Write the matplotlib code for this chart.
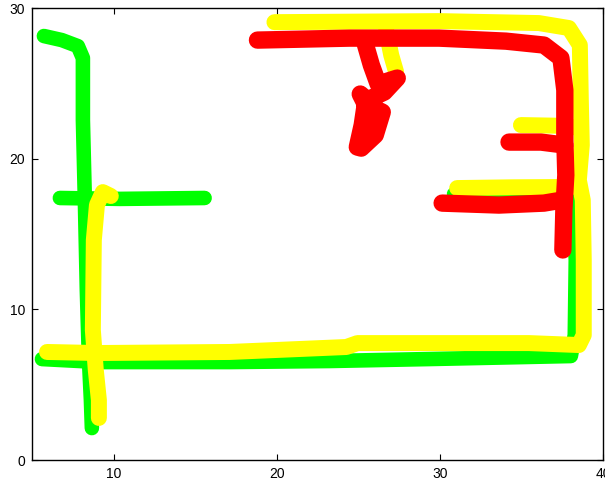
import numpy as np
import matplotlib
matplotlib.use("Agg")
import matplotlib.pyplot as plt

plt.rcParams["font.family"] = ["Liberation Sans", "DejaVu Sans"]

# ---- trajectory data (metres) ----
# green run
green_a_x = [5.73, 6.83, 7.81, 8.12, 8.12, 8.24, 8.36, 8.49, 8.61, 8.67]
green_a_y = [28.14, 27.87, 27.47, 26.68, 22.56, 17.25, 11.28, 6.64, 3.98, 2.12]
green_b_x = [6.71, 10.4, 15.58]
green_b_y = [17.39, 17.33, 17.39]
green_c_x = [5.61, 9.16, 17.11, 23.23, 29.34, 35.03, 38.03, 38.27, 38.33, 38.21, 38.09, 36.38, 30.87]
green_c_y = [6.70, 6.50, 6.50, 6.57, 6.70, 6.83, 6.90, 8.29, 13.27, 16.26, 17.45, 17.58, 17.65]

# yellow run
yellow_a_x = [19.86, 29.95, 36.07, 37.91, 38.58, 38.64, 38.70, 38.52, 38.76, 38.82, 38.82, 38.52,
              35.46, 24.95, 24.27, 17.11, 8.98, 5.92]
yellow_a_y = [29.06, 29.13, 29.00, 28.67, 27.54, 23.89, 20.90, 18.58, 17.25, 13.27, 8.29, 7.63,
              7.76, 7.76, 7.50, 7.17, 7.10, 7.17]
yellow_b_x = [9.83, 9.34, 8.98, 8.79, 8.73, 8.91, 9.10, 9.10]
yellow_b_y = [17.52, 17.78, 16.92, 14.60, 8.63, 5.97, 3.98, 2.79]
yellow_c_x = [31.06, 34.5, 37.91, 38.52]
yellow_c_y = [18.05, 18.10, 18.12, 18.18]
yellow_d_x = [34.97, 37.6, 38.64]
yellow_d_y = [22.23, 22.18, 22.03]
yellow_e_x = [26.71, 27.02, 27.32]
yellow_e_y = [28.53, 26.87, 25.75]

# red run
red_a_x = [18.82, 24.45, 29.95, 34.05, 36.38, 37.42, 37.66, 37.66, 37.72, 37.60, 37.54]
red_a_y = [27.87, 28.00, 28.00, 27.80, 27.54, 26.68, 24.55, 21.23, 18.91, 16.59, 13.94]
red_b_x = [34.24, 36.2, 37.66]
red_b_y = [21.10, 21.10, 20.90]
red_c_x = [30.14, 33.62, 36.38, 37.48]
red_c_y = [17.05, 16.92, 17.05, 17.25]
red_d_x = [25.43, 25.80, 26.22, 27.39, 26.59, 25.55, 25.12, 25.43, 26.47, 26.04, 25.18, 24.94, 25.24, 25.43]
red_d_y = [27.60, 26.21, 24.95, 25.35, 24.42, 23.89, 24.29, 23.62, 23.09, 21.57, 20.70, 20.77, 22.23, 23.62]

x_ticks = [10, 20, 30, 40]
y_ticks = [0, 10, 20, 30]

runs = [
    ("#00ff00", 10.5, [(green_a_x, green_a_y), (green_b_x, green_b_y), (green_c_x, green_c_y)]),
    ("#ffff00", 11.5, [(yellow_a_x, yellow_a_y), (yellow_b_x, yellow_b_y), (yellow_c_x, yellow_c_y),
                       (yellow_d_x, yellow_d_y), (yellow_e_x, yellow_e_y)]),
    ("#ff0000", 12.5, [(red_a_x, red_a_y), (red_b_x, red_b_y), (red_c_x, red_c_y), (red_d_x, red_d_y)]),
]

fig = plt.figure(figsize=(6.05, 4.8), dpi=100)
ax = fig.add_axes([32 / 605, 20 / 480, 571 / 605, 452 / 480])

for z, (color, lw, segs) in enumerate(runs):
    for xs, ys in segs:
        ax.plot(xs, ys, color=color, lw=lw, solid_capstyle="round",
                solid_joinstyle="round", zorder=2 + z)

ax.set_xlim(5, 40)
ax.set_ylim(0, 30)
ax.set_xticks(x_ticks)
ax.set_yticks(y_ticks)
ax.tick_params(direction="in", length=4, width=0.8, top=True, right=True,
               labelsize=10, pad=5)
for s in ax.spines.values():
    s.set_linewidth(1.0)

fig.savefig("out.png", dpi=100)
